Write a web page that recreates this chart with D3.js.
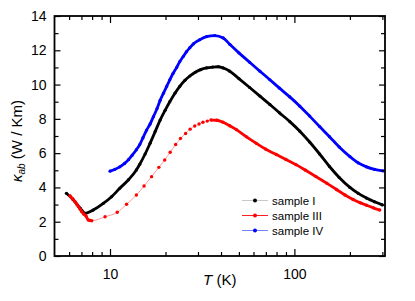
<!DOCTYPE html>
<html>
<head>
<meta charset="utf-8">
<script src="https://cdn.jsdelivr.net/npm/d3@7"></script>
<style>
  body { margin: 0; background: #fff; }
  svg { display: block; font-family: "Liberation Sans", Arial, sans-serif; }
</style>
</head>
<body>
<div id="chart"></div>
<script>
"use strict";

// sample I (black)
const tempI = [5.8, 6.3, 6.9, 7.35, 8.1, 9.2, 10.2, 11.3, 12.6, 13.9, 14.5, 15.5, 16.5, 17.6, 18.7,
               19.9, 21.1, 22.5, 23.9, 25.5, 27.1, 29, 31, 33.4, 36, 38.6, 41, 44.6, 50, 57.2,
               65, 73.6, 83, 94.4, 107, 121, 137, 155, 175, 200, 222, 246, 272, 300];
const kapI = [3.66, 3.3, 2.78, 2.49, 2.68, 3.07, 3.46, 3.95, 4.45, 5.02, 5.35, 5.95, 6.58, 7.27, 7.93,
              8.5, 9.0, 9.5, 9.9, 10.25, 10.5, 10.72, 10.87, 10.97, 11.02, 11.04, 10.97, 10.78, 10.35, 9.83,
              9.33, 8.84, 8.35, 7.84, 7.28, 6.65, 5.95, 5.22, 4.58, 4.0, 3.65, 3.38, 3.16, 2.98];

// sample III (red): dense low-T part, sparse middle part, dense high-T part
const tempIIIlow = [6.06, 6.25, 6.46, 6.6, 6.74, 6.9, 7.03, 7.2, 7.41, 7.63, 7.8, 7.96];
const kapIIIlow = [3.52, 3.35, 3.17, 3.02, 2.88, 2.72, 2.58, 2.45, 2.33, 2.1, 2.08, 2.06];
const tempIIImid = [9.4, 10.95, 12.3, 13.9, 15.3, 16.8, 18.4, 19.8, 21.2, 22.7, 24.1, 25.7,
                    27.2, 28.8, 30.4, 31.9, 33.7];
const kapIIImid = [2.29, 2.55, 3.02, 3.56, 4.08, 4.63, 5.17, 5.6, 6.05, 6.5, 6.85, 7.15,
                   7.4, 7.58, 7.7, 7.8, 7.87];
const tempIIIhigh = [35.3, 38, 41, 44.6, 48.5, 55, 62.2, 70, 79.8, 90, 102, 115, 131, 150,
                     169, 188, 208, 228, 246, 268, 290];
const kapIIIhigh = [7.93, 7.92, 7.8, 7.6, 7.37, 6.95, 6.57, 6.23, 5.92, 5.63, 5.33, 5.0, 4.63, 4.24,
                    3.88, 3.56, 3.3, 3.1, 2.96, 2.81, 2.68];

// sample IV (blue)
const tempIV = [10, 10.6, 11.3, 12, 12.6, 13.2, 13.9, 14.5, 15.1, 15.8, 16.5, 17.2, 18, 18.7,
                19.5, 20.3, 21.1, 22, 23, 23.9, 25, 26, 27.1, 28.3, 30.7, 33.4, 37, 41.1, 44.6,
                50, 57.2, 65, 73.6, 83, 94.4, 107, 121, 137, 155, 175, 200, 222, 246, 272, 303];
const kapIV = [4.95, 5.05, 5.2, 5.4, 5.62, 5.88, 6.2, 6.5, 6.9, 7.35, 7.7, 8.13, 8.6, 9.08,
               9.5, 9.9, 10.28, 10.66, 11.0, 11.34, 11.65, 11.92, 12.15, 12.37, 12.62, 12.8, 12.86, 12.72, 12.35,
               11.85, 11.3, 10.78, 10.28, 9.79, 9.28, 8.74, 8.16, 7.55, 6.96, 6.36, 5.8, 5.43, 5.2, 5.05, 4.96];

const xMajor = [10, 100];
const xMinor = [6, 7, 8, 9, 20, 30, 40, 50, 60, 70, 80, 90, 200, 300];
const yMajor = [0, 2, 4, 6, 8, 10, 12, 14];
const yMinor = [1, 3, 5, 7, 9, 11, 13];
const legendNames = ["sample I", "sample III", "sample IV"];

const zip = (ts, ks) => ts.map((t, i) => ({t: t, k: ks[i]}));

const W = 415, H = 301;
const margin = {top: 16, right: 30, bottom: 45, left: 54.5};
const x0 = margin.left, x1 = W - margin.right, y0 = H - margin.bottom, y1 = margin.top;

const x = d3.scaleLog().domain([5, 310]).range([x0, x1]);
const y = d3.scaleLinear().domain([0, 14]).range([y0, y1]);

const svg = d3.select("#chart").append("svg")
              .attr("width", W)
              .attr("height", H);

const line = d3.line()
               .x(d => x(d.t))
               .y(d => y(d.k))
               .curve(d3.curveMonotoneX);

const plot = svg.append("g");

// sample I
plot.append("path")
    .attr("d", line(zip(tempI, kapI)))
    .attr("fill", "none")
    .attr("stroke", "#000")
    .attr("stroke-width", 2.8);
plot.append("g").selectAll("circle").data(zip(tempI, kapI)).enter()
    .append("circle")
    .attr("cx", d => x(d.t)).attr("cy", d => y(d.k)).attr("r", 1.6)
    .attr("fill", "#000");

// sample IV
plot.append("path")
    .attr("d", line(zip(tempIV, kapIV)))
    .attr("fill", "none")
    .attr("stroke", "#0000ff")
    .attr("stroke-width", 2.8);
plot.append("g").selectAll("circle").data(zip(tempIV, kapIV)).enter()
    .append("circle")
    .attr("cx", d => x(d.t)).attr("cy", d => y(d.k)).attr("r", 1.6)
    .attr("fill", "#0000ff");

// sample III
const redAll = zip(tempIIIlow.concat(tempIIImid, tempIIIhigh), kapIIIlow.concat(kapIIImid, kapIIIhigh));
plot.append("path")
    .attr("d", line(redAll))
    .attr("fill", "none")
    .attr("stroke", "#ff9090")
    .attr("stroke-width", 0.9);
[zip(tempIIIlow, kapIIIlow), zip(tempIIIhigh, kapIIIhigh)].forEach(seg => {
    plot.append("path")
        .attr("d", line(seg))
        .attr("fill", "none")
        .attr("stroke", "#ff0000")
        .attr("stroke-width", 2.8);
});
plot.append("g").selectAll("circle").data(redAll).enter()
    .append("circle")
    .attr("cx", d => x(d.t)).attr("cy", d => y(d.k)).attr("r", 1.7)
    .attr("fill", "#ff0000");

// axes: ticks point inward on all four sides
const tickStyle = g => {
    g.select(".domain").remove();
    g.selectAll(".tick line").attr("stroke", "#000").attr("stroke-width", 1.2);
    g.selectAll("text").attr("fill", "#000").style("font-size", "14px")
     .style("font-family", "'Liberation Sans', Arial, sans-serif");
};

svg.append("g").attr("transform", `translate(0,${y0})`)
   .call(d3.axisBottom(x).tickValues(xMajor).tickFormat(d3.format("d")).tickSizeInner(-7).tickPadding(13))
   .call(tickStyle);
svg.append("g").attr("transform", `translate(0,${y0})`)
   .call(d3.axisBottom(x).tickValues(xMinor).tickFormat("").tickSizeInner(-4))
   .call(tickStyle);
svg.append("g").attr("transform", `translate(0,${y1})`)
   .call(d3.axisTop(x).tickValues(xMajor).tickFormat("").tickSizeInner(-7))
   .call(tickStyle);
svg.append("g").attr("transform", `translate(0,${y1})`)
   .call(d3.axisTop(x).tickValues(xMinor).tickFormat("").tickSizeInner(-4))
   .call(tickStyle);

svg.append("g").attr("transform", `translate(${x0},0)`)
   .call(d3.axisLeft(y).tickValues(yMajor).tickSizeInner(-6).tickPadding(8))
   .call(tickStyle);
svg.append("g").attr("transform", `translate(${x0},0)`)
   .call(d3.axisLeft(y).tickValues(yMinor).tickFormat("").tickSizeInner(-4))
   .call(tickStyle);
svg.append("g").attr("transform", `translate(${x1},0)`)
   .call(d3.axisRight(y).tickValues(yMajor).tickFormat("").tickSizeInner(-6))
   .call(tickStyle);
svg.append("g").attr("transform", `translate(${x1},0)`)
   .call(d3.axisRight(y).tickValues(yMinor).tickFormat("").tickSizeInner(-4))
   .call(tickStyle);

svg.append("rect")
   .attr("x", x0).attr("y", y1)
   .attr("width", x1 - x0).attr("height", y0 - y1)
   .attr("fill", "none")
   .attr("stroke", "#000")
   .attr("stroke-width", 1.8);

// axis titles
const xt = svg.append("text")
              .attr("x", (x0 + x1) / 2).attr("y", 285)
              .attr("text-anchor", "middle")
              .style("font-size", "15px");
xt.append("tspan").style("font-style", "italic").text("T");
xt.append("tspan").text(" (K)");

const yt = svg.append("text")
              .attr("transform", "translate(22,141) rotate(-90)")
              .attr("text-anchor", "middle")
              .style("font-size", "15px");
yt.append("tspan").style("font-style", "italic").text("κ");
yt.append("tspan").style("font-style", "italic").style("font-size", "10px")
  .attr("dy", 3).text("ab");
yt.append("tspan").attr("dy", -3).text(" (W / Km)");

// legend
const legendColors = [["#c8c8c8", "#000"], ["#ff2020", "#ff0000"], ["#6f86ff", "#0000ff"]];
const legend = svg.append("g").selectAll("g").data(legendNames).enter()
                  .append("g")
                  .attr("transform", (d, i) => `translate(242,${200.5 + i * 15})`);
legend.append("line")
      .attr("x1", 0).attr("x2", 26)
      .attr("stroke", (d, i) => legendColors[i][0])
      .attr("stroke-width", 1);
legend.append("circle")
      .attr("cx", 13).attr("r", 2)
      .attr("fill", (d, i) => legendColors[i][1]);
legend.append("text")
      .attr("x", 30).attr("dy", "0.35em")
      .style("font-size", "11.5px")
      .text(d => d);
</script>
</body>
</html>
